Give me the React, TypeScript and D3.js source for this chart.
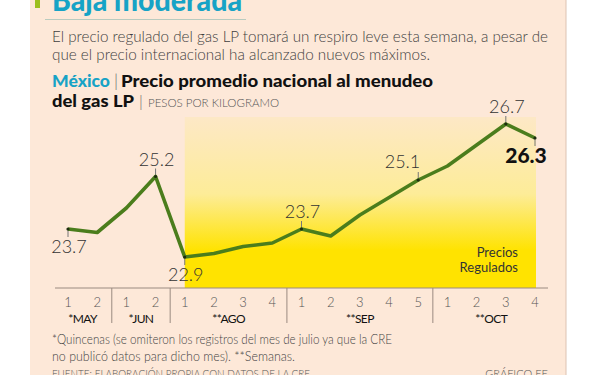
import React from "react";
import * as d3 from "d3";

const categories = ["May-1","May-2","Jun-1","Jun-2","Ago-1","Ago-2","Ago-3","Ago-4","Sep-1","Sep-2","Sep-3","Sep-4","Sep-5","Oct-1","Oct-2","Oct-3","Oct-4"];
const tickLabels = ["1","2","1","2","1","2","3","4","1","2","3","4","5","1","2","3","4"];
const values = [23.7,23.6,24.3,25.2,22.9,23.0,23.2,23.3,23.7,23.5,24.1,24.6,25.1,25.5,26.1,26.7,26.3];
const months = [
  { label: "*MAY", from: 0, to: 1 },
  { label: "*JUN", from: 2, to: 3 },
  { label: "**AGO", from: 4, to: 7 },
  { label: "**SEP", from: 8, to: 12 },
  { label: "**OCT", from: 13, to: 16 },
];
const annotations = [
  { i: 0, text: "23.7", pos: "below" },
  { i: 3, text: "25.2", pos: "above" },
  { i: 4, text: "22.9", pos: "below" },
  { i: 8, text: "23.7", pos: "above" },
  { i: 12, text: "25.1", pos: "aboveLeft" },
  { i: 15, text: "26.7", pos: "above" },
  { i: 16, text: "26.3", pos: "belowBold" },
];
const regulatedFrom = 4;
const regulatedTo = 16;
const regulatedTop = 26.9;

const FONT = "Lato, 'Noto Sans', sans-serif";

export default function App() {
  const W = 600, H = 375;
  const x = d3.scalePoint<number>().domain(d3.range(categories.length)).range([68, 535]);
  const y = d3.scaleLinear().domain([22, 27]).range([288.5, 113.5]);
  const line = d3.line<number>().x((_, i) => x(i)!).y((d) => y(d));
  const axisY = 288;

  const seps = months.slice(1).map((m) => (x(m.from - 1)! + x(m.from)!) / 2);

  return (
    <svg width={W} height={H} style={{ position: "absolute", left: 0, top: 0 }} fontFamily={FONT}>
      <defs>
        <linearGradient id="yel" x1="0" y1="0" x2="0" y2="1">
          <stop offset="0" stopColor="#fde8c6" />
          <stop offset="0.45" stopColor="#fdec98" />
          <stop offset="0.78" stopColor="#ffe300" />
          <stop offset="1" stopColor="#ffe300" />
        </linearGradient>
      </defs>
      <rect x={0} y={0} width={W} height={H} fill="#ffffff" />
      <rect x={30} y={0} width={536} height={H} fill="#fde8d8" />
      <line x1={566} x2={566} y1={0} y2={H} stroke="#dcc3b3" strokeWidth={1} />
      <rect x={35} y={0} width={5} height={8} fill="#9cbf1e" />

      <text x={52} y={11} fontSize={30} fontWeight={900} fill="#17a3c6" textLength={190} lengthAdjust="spacingAndGlyphs">Baja moderada</text>
      <line x1={45} x2={246} y1={19.5} y2={19.5} stroke="#b9cbbf" strokeWidth={1} />

      <text x={52} y={42} fontSize={15} fontWeight={300} fill="#3f3f3f" textLength={496} lengthAdjust="spacingAndGlyphs">El precio regulado del gas LP tomará un respiro leve esta semana, a pesar de</text>
      <text x={52} y={60} fontSize={15} fontWeight={300} fill="#3f3f3f" textLength={378} lengthAdjust="spacingAndGlyphs">que el precio internacional ha alcanzado nuevos máximos.</text>

      <text x={52} y={87} fontSize={17} fontWeight={900} fill="#17a3c6" textLength={58} lengthAdjust="spacingAndGlyphs">México</text>
      <text x={114} y={87} fontSize={17} fontWeight={300} fill="#666">|</text>
      <text x={121} y={87} fontSize={17} fontWeight={900} fill="#111" textLength={312} lengthAdjust="spacingAndGlyphs">Precio promedio nacional al menudeo</text>
      <text x={52} y={107} fontSize={17} fontWeight={900} fill="#111" textLength={82} lengthAdjust="spacingAndGlyphs">del gas LP</text>
      <text x={139} y={107} fontSize={16} fontWeight={300} fill="#666">|</text>
      <text x={148} y={107} fontSize={12} fontWeight={300} fill="#555" textLength={131} lengthAdjust="spacingAndGlyphs">PESOS POR KILOGRAMO</text>

      <rect x={x(regulatedFrom)!} y={y(regulatedTop)} width={x(regulatedTo)! - x(regulatedFrom)! + 1} height={axisY - y(regulatedTop)} fill="url(#yel)" />
      <text x={518} y={257} fontSize={13} fill="#333" textAnchor="end">Precios</text>
      <text x={518} y={272} fontSize={13} fill="#333" textAnchor="end">Regulados</text>

      <line x1={55} x2={548} y1={axisY} y2={axisY} stroke="#9a8a80" strokeWidth={1} />
      {seps.map((s, k) => (
        <line key={k} x1={s} x2={s} y1={axisY} y2={323} stroke="#9a8a80" strokeWidth={1} />
      ))}
      {tickLabels.map((t, i) => (
        <text key={i} x={x(i)!} y={307} fontSize={13} fontWeight={300} fill="#555" textAnchor="middle">{t}</text>
      ))}
      {months.map((m, k) => (
        <text key={k} x={(x(m.from)! + x(m.to)!) / 2} y={323} fontSize={12} fill="#111" textAnchor="middle" letterSpacing={-0.6}>{m.label}</text>
      ))}

      {annotations.map((a, k) => {
        const px = x(a.i)!, py = y(values[a.i]);
        const below = a.pos.startsWith("below");
        const ty = below ? py + 8 : py - 8;
        return <line key={k} x1={px} x2={px} y1={py} y2={ty} stroke="#777" strokeWidth={1} />;
      })}

      <path d={line(values) || ""} fill="none" stroke="#4b7d1c" strokeWidth={3.6} strokeLinejoin="round" />

      {annotations.map((a, k) => {
        const px = x(a.i)!, py = y(values[a.i]);
        return <circle key={k} cx={px} cy={py} r={1.6} fill="#1e2d10" />;
      })}

      {annotations.map((a, k) => {
        const px = x(a.i)!, py = y(values[a.i]);
        if (a.pos === "belowBold") {
          return <text key={k} x={px - 9} y={py + 25} fontSize={21} fontWeight={900} fill="#111" textAnchor="middle">{a.text}</text>;
        }
        if (a.pos === "aboveLeft") {
          return <text key={k} x={px + 2} y={py - 12} fontSize={18} fontWeight={300} fill="#333" textAnchor="end">{a.text}</text>;
        }
        const below = a.pos === "below";
        return <text key={k} x={px + 1} y={below ? py + 24 : py - 11} fontSize={18} fontWeight={300} fill="#333" textAnchor="middle">{a.text}</text>;
      })}

      <text x={52} y={344} fontSize={13} fontWeight={300} fill="#444" textLength={340} lengthAdjust="spacingAndGlyphs">*Quincenas (se omiteron los registros del mes de julio ya que la CRE</text>
      <text x={52} y={361} fontSize={13} fontWeight={300} fill="#444" textLength={243} lengthAdjust="spacingAndGlyphs">no publicó datos para dicho mes). **Semanas.</text>
      <text x={52} y={378} fontSize={11} fontWeight={300} fill="#555" textLength={258} lengthAdjust="spacingAndGlyphs">FUENTE: ELABORACIÓN PROPIA CON DATOS DE LA CRE</text>
      <text x={548} y={378} fontSize={11} fontWeight={300} fill="#555" textAnchor="end">GRÁFICO EE</text>
    </svg>
  );
}
